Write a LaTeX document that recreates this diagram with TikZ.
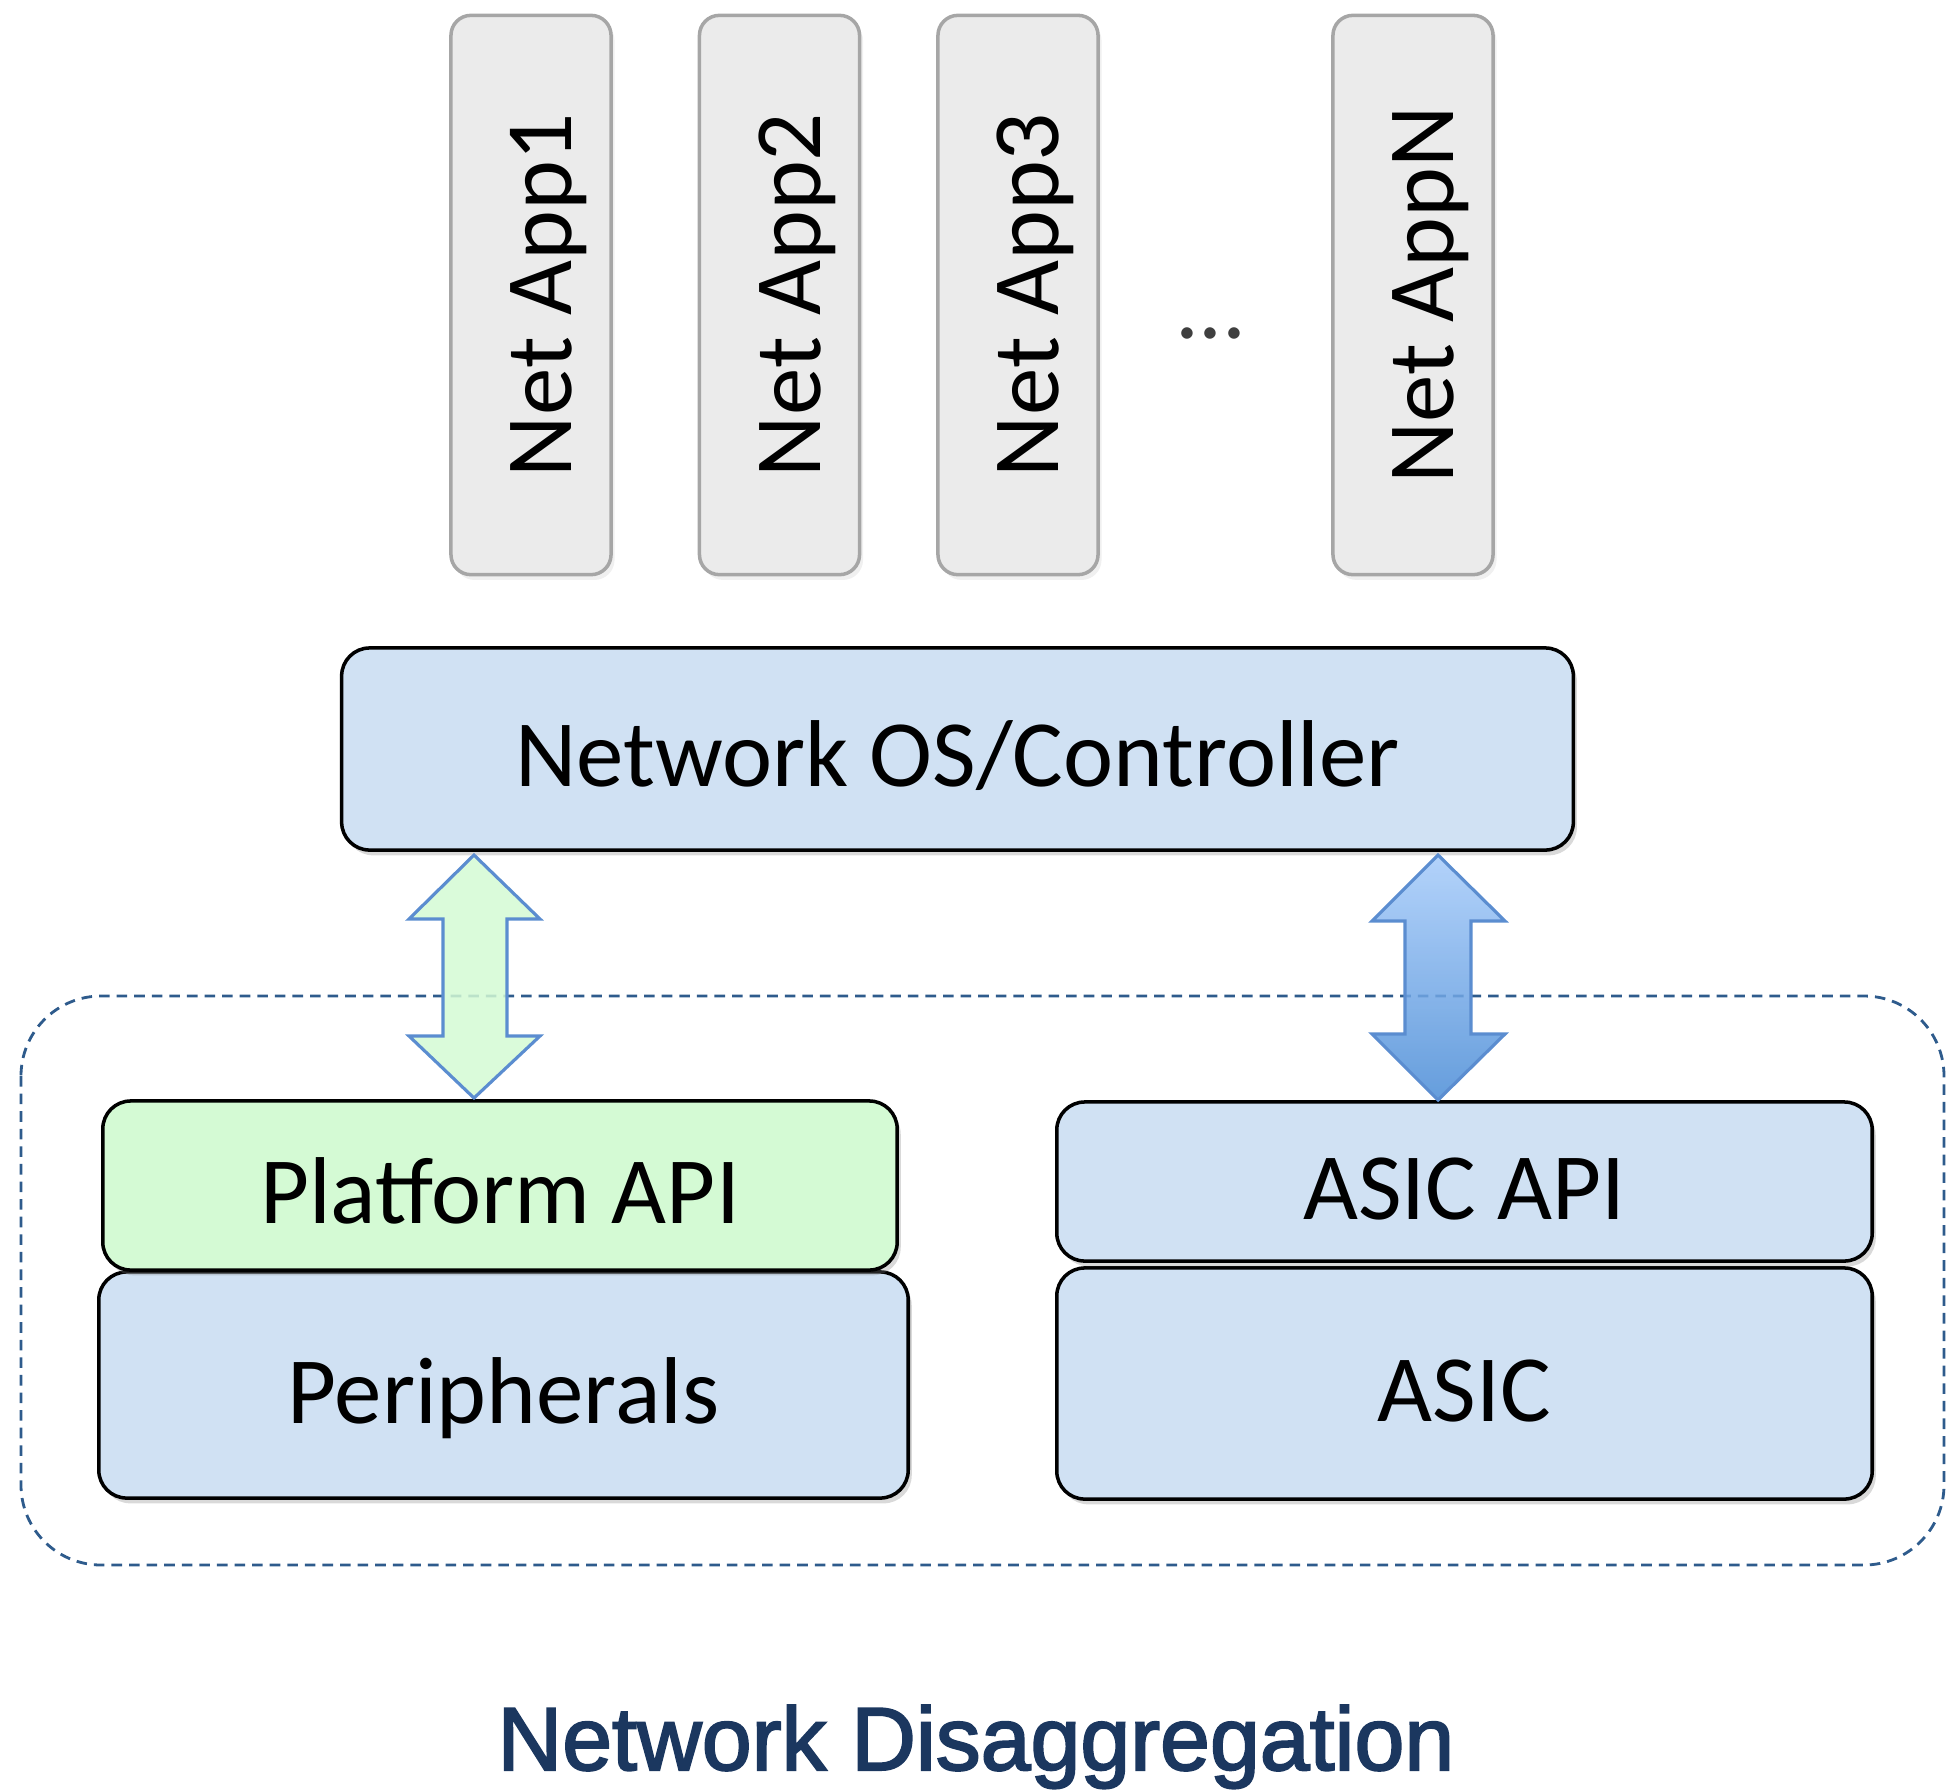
\documentclass[tikz,border=0pt]{standalone}
\usepackage{fontspec}
\setmainfont{Carlito}
\newfontfamily\titlefont[FakeBold=2.2]{Liberation Sans}
\usetikzlibrary{shadows}

\definecolor{appgray}{HTML}{EBEBEB}
\definecolor{appedge}{HTML}{A6A6A6}
\definecolor{dotgray}{HTML}{3F3F3F}
\definecolor{osblue}{HTML}{D0E1F3}
\definecolor{apigreen}{HTML}{D4FAD4}
\definecolor{grpedge}{HTML}{2E5B8C}
\definecolor{arrowedge}{HTML}{5B8DD0}
\definecolor{arrowtop}{HTML}{A6CBFA}
\definecolor{arrowbot}{HTML}{4A8CD6}
\definecolor{titleblue}{HTML}{1B375F}

\begin{document}
\begin{tikzpicture}[x=0.01cm,y=-0.01cm,
  every node/.style={inner sep=0pt, font=\fontsize{27}{32}\selectfont},
  app/.style={draw=appedge, fill=appgray, line width=1pt, rounded corners=0.2cm,
    rotate=90, minimum width=5.59cm, minimum height=1.60cm,
    text height=23.3pt, text depth=0pt,
    drop shadow={opacity=0.12, shadow xshift=1pt, shadow yshift=-1.5pt}},
  layer/.style={draw=black, fill=osblue, line width=1pt, rounded corners=0.28cm,
    text height=21.6pt, text depth=0pt,
    drop shadow={opacity=0.3, shadow xshift=1pt, shadow yshift=-1.5pt}},
  api/.style={layer, fill=apigreen},
  fatarrow/.style={draw=arrowedge, line width=0.9pt, fill opacity=0.85},
  group/.style={draw=grpedge, line width=0.8pt, dash pattern=on 3pt off 2pt, rounded corners=0.8cm}]
\useasboundingbox (0,0) rectangle (1948,1790);

% applications
\node[app] (app1) at (531,295) {Net App1};
\node[app] (app2) at (779.5,295) {Net App2};
\node[app] (app3) at (1018,295) {Net App3};
\node[anchor=base, text=dotgray] (dots) at (1211,338) {...};
\node[app] (appn) at (1413,295) {Net AppN};

\node[layer, minimum width=12.31cm, minimum height=2.02cm] (os) at (957.5,749) {Network OS/Controller};

% disaggregated box
\draw[group] (21,996) rectangle (1944,1565);

\node[layer, minimum width=8.09cm, minimum height=2.26cm] (periph) at (503.5,1385) {Peripherals};
\node[api, minimum width=7.94cm, minimum height=1.69cm] (papi) at (500,1185.5) {Platform API};
\node[layer, minimum width=8.15cm, minimum height=2.31cm] (asic) at (1464.5,1383.5) {ASIC};
\node[layer, minimum width=8.15cm, minimum height=1.59cm] (asicapi) at (1464.5,1181.5) {ASIC API};

% up/down arrows
\draw[fatarrow, fill=apigreen] (474,855) -- (540,919) -- (507,919) -- (507,1036) -- (540,1036)
  -- (474,1098) -- (409,1036) -- (443,1036) -- (443,919) -- (409,919) -- cycle;
\draw[fatarrow, top color=arrowtop, bottom color=arrowbot] (1438,855) -- (1505,921) -- (1471,921)
  -- (1471,1034) -- (1505,1034) -- (1438,1100) -- (1372,1034) -- (1405,1034) -- (1405,921)
  -- (1372,921) -- cycle;

\node[anchor=base, text=titleblue, font=\titlefont\fontsize{25.5}{30}\selectfont] (title) at (976,1770) {Network Disaggregation};
\end{tikzpicture}
\end{document}
